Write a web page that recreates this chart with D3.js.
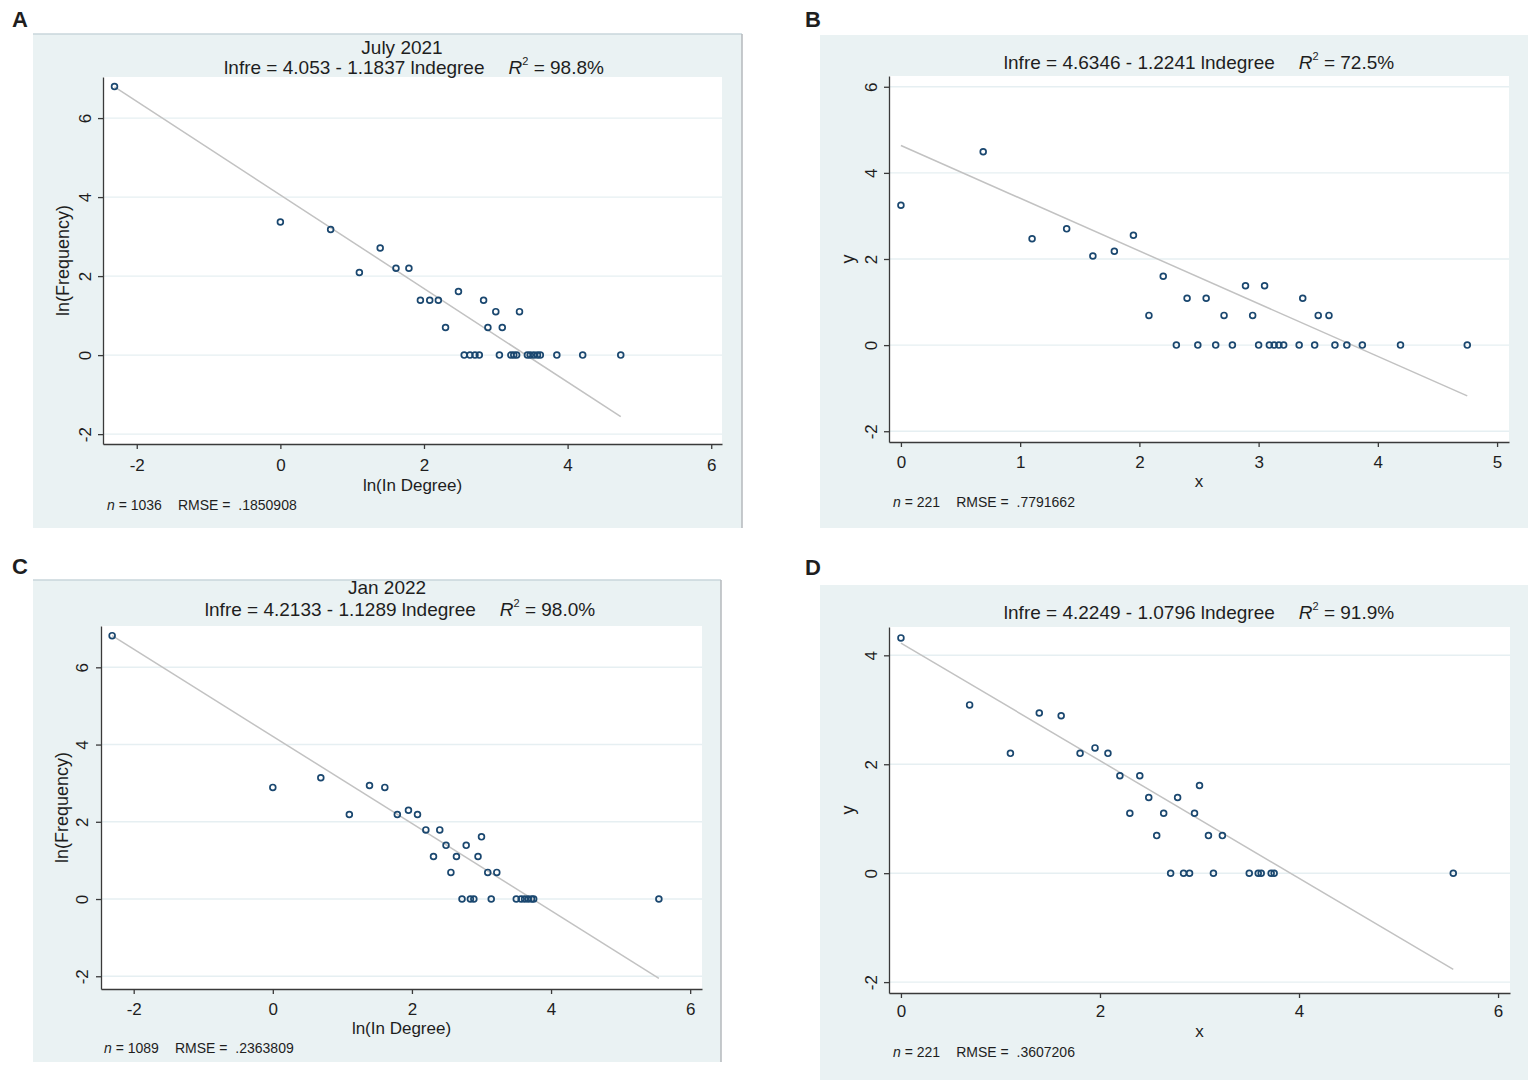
<!DOCTYPE html>
<html>
<head>
<meta charset="utf-8">
<title>Degree distribution fits</title>
<script src="https://d3js.org/d3.v7.min.js"></script>
<style>
    body { margin: 0; background: #fff; }
    svg text { font-family: "Liberation Sans", Arial, sans-serif; fill: #1e1e1e; }
    .axis path, .axis line { stroke: #3a3a3a; stroke-width: 1.3; }
    .axis text { font-size: 17px; fill: #1e1e1e; }
</style>
</head>
<body>
<svg id="chart" width="1535" height="1085"></svg>
<script>
// ---- data ----
const panelLetters = ["A", "B", "C", "D"];
const topTitles = ["July 2021", "", "Jan 2022", ""];
const intercepts = [4.053, 4.6346, 4.2133, 4.2249];
const slopes = [1.1837, 1.2241, 1.1289, 1.0796];
const rSquared = [98.8, 72.5, 98.0, 91.9];
const nObs = [1036, 221, 1089, 221];
const rmse = [0.1850908, 0.7791662, 0.2363809, 0.3607206];
const xTitles = ["ln(In Degree)", "x", "ln(In Degree)", "x"];
const yTitles = ["ln(Frequency)", "y", "ln(Frequency)", "y"];

const xTicks = [[-2, 0, 2, 4, 6], [0, 1, 2, 3, 4, 5], [-2, 0, 2, 4, 6], [0, 2, 4, 6]];
const yTicks = [[-2, 0, 2, 4, 6], [-2, 0, 2, 4, 6], [-2, 0, 2, 4, 6], [-2, 0, 2, 4]];

// A: July 2021
const aX = [-2.31, 0, 0.70, 1.10, 1.39, 1.61, 1.79, 1.95, 2.08, 2.20, 2.30, 2.48, 2.83, 2.89, 3.00, 3.09, 3.33,
            2.56, 2.64, 2.71, 2.77, 3.05, 3.21, 3.25, 3.29, 3.44, 3.48, 3.53, 3.58, 3.62, 3.85, 4.21, 4.74];
const aY = [6.80, 3.37, 3.18, 2.09, 2.71, 2.20, 2.20, 1.39, 1.39, 1.39, 0.70, 1.61, 1.39, 0.70, 1.10, 0.70, 1.10,
            0, 0, 0, 0, 0, 0, 0, 0, 0, 0, 0, 0, 0, 0, 0, 0];
// B
const bX = [0, 0.69, 1.10, 1.39, 1.61, 1.79, 1.95, 2.08, 2.20, 2.40, 2.56, 2.71, 2.89, 2.95, 3.05, 3.37, 3.50, 3.59,
            2.31, 2.49, 2.64, 2.78, 3.00, 3.09, 3.13, 3.17, 3.21, 3.34, 3.47, 3.64, 3.74, 3.87, 4.19, 4.75];
const bY = [3.25, 4.49, 2.47, 2.70, 2.07, 2.18, 2.55, 0.69, 1.60, 1.09, 1.09, 0.69, 1.38, 0.69, 1.38, 1.09, 0.69, 0.69,
            0, 0, 0, 0, 0, 0, 0, 0, 0, 0, 0, 0, 0, 0, 0, 0];
// C: Jan 2022
const cX = [-2.31, 0, 0.69, 1.10, 1.39, 1.61, 1.79, 1.95, 2.08, 2.20, 2.40, 2.31, 2.49, 2.56, 2.64, 2.78, 2.95, 3.00, 3.09, 3.22,
            2.72, 2.84, 2.89, 3.14, 3.50, 3.57, 3.62, 3.67, 3.72, 3.75, 5.55];
const cY = [6.82, 2.89, 3.14, 2.19, 2.94, 2.89, 2.19, 2.30, 2.19, 1.79, 1.79, 1.10, 1.39, 0.69, 1.10, 1.39, 1.10, 1.61, 0.69, 0.69,
            0, 0, 0, 0, 0, 0, 0, 0, 0, 0, 0];
// D
const dX = [0, 0.69, 1.10, 1.39, 1.61, 1.80, 1.95, 2.08, 2.20, 2.40, 2.49, 2.30, 2.64, 2.57, 2.78, 2.95, 3.00, 3.09, 3.23,
            2.71, 2.84, 2.90, 3.14, 3.50, 3.59, 3.62, 3.72, 3.75, 5.55];
const dY = [4.32, 3.09, 2.20, 2.94, 2.89, 2.20, 2.30, 2.20, 1.79, 1.79, 1.39, 1.10, 1.10, 0.69, 1.39, 1.10, 1.61, 0.69, 0.69,
            0, 0, 0, 0, 0, 0, 0, 0, 0, 0];

const xsAll = [aX, bX, cX, dX];
const ysAll = [aY, bY, cY, dY];

// ---- layout of each panel (pixels) ----
const layouts = [
    { letter: [12, 27], bg: [33, 34, 742, 528], border: true, plot: [103, 722, 77, 444],
      xDom: [-2.47, 6.15], yDom: [-2.25, 7.04], titleX: [402, 414], titleY: [54, 74],
      xLabY: 471, yLabX: 91, xTitleY: 491, yTitleX: 69, note: [107, 510] },
    { letter: [805, 27], bg: [820, 35, 1528, 528], border: false, plot: [889, 1509, 76, 442],
      xDom: [-0.1, 5.1], yDom: [-2.25, 6.25], titleX: [1199, 1199], titleY: [0, 69],
      xLabY: 468, yLabX: 877, xTitleY: 487, yTitleX: 854, note: [893, 507] },
    { letter: [12, 574], bg: [33, 580, 721, 1062], border: true, plot: [101, 702, 626, 989],
      xDom: [-2.47, 6.17], yDom: [-2.33, 7.07], titleX: [387, 400], titleY: [594, 616],
      xLabY: 1015, yLabX: 88, xTitleY: 1034, yTitleX: 68, note: [104, 1053] },
    { letter: [805, 575], bg: [820, 585, 1528, 1080], border: false, plot: [889, 1510, 627, 993],
      xDom: [-0.12, 6.12], yDom: [-2.2, 4.52], titleX: [1199, 1199], titleY: [0, 619],
      xLabY: 1017, yLabX: 877, xTitleY: 1037, yTitleX: 854, note: [893, 1057] }
];

const svg = d3.select("#chart");

function drawPanel(i) {
    const L = layouts[i];
    const [px0, px1, py0, py1] = L.plot;
    const g = svg.append("g").attr("class", "panel");

    // graph region background
    g.append("rect")
        .attr("x", L.bg[0]).attr("y", L.bg[1])
        .attr("width", L.bg[2] - L.bg[0]).attr("height", L.bg[3] - L.bg[1])
        .attr("fill", "#eaf2f3");
    if (L.border) {
        g.append("line").attr("x1", L.bg[0]).attr("x2", L.bg[2]).attr("y1", L.bg[1]).attr("y2", L.bg[1])
            .attr("stroke", "#c9d6db").attr("stroke-width", 1.5);
        g.append("line").attr("x1", L.bg[2]).attr("x2", L.bg[2]).attr("y1", L.bg[1]).attr("y2", L.bg[3])
            .attr("stroke", "#b4b9bc").attr("stroke-width", 1.5);
    }

    // panel letter
    g.append("text").attr("x", L.letter[0]).attr("y", L.letter[1])
        .attr("font-size", 22).attr("font-weight", "bold").attr("fill", "#111")
        .text(panelLetters[i]);

    // plot region
    g.append("rect").attr("x", px0).attr("y", py0)
        .attr("width", px1 - px0).attr("height", py1 - py0).attr("fill", "#fff");

    const x = d3.scaleLinear().domain(L.xDom).range([px0, px1]);
    const y = d3.scaleLinear().domain(L.yDom).range([py1, py0]);

    // horizontal grid lines
    g.selectAll(".grid").data(yTicks[i]).enter().append("line")
        .attr("x1", px0).attr("x2", px1)
        .attr("y1", d => y(d)).attr("y2", d => y(d))
        .attr("stroke", "#e6eff2").attr("stroke-width", 1.4);

    // axes (plain hyphen minus like the Stata output)
    const xAxis = g.append("g").attr("class", "axis")
        .attr("transform", `translate(0,${py1})`)
        .call(d3.axisBottom(x).tickValues(xTicks[i]).tickSize(5).tickSizeOuter(0).tickFormat(d => String(d)));
    xAxis.selectAll("text").attr("y", L.xLabY - py1).attr("dy", 0);

    const yAxis = g.append("g").attr("class", "axis")
        .attr("transform", `translate(${px0},0)`)
        .call(d3.axisLeft(y).tickValues(yTicks[i]).tickSize(5).tickSizeOuter(0).tickFormat(d => String(d)));
    yAxis.selectAll("text")
        .attr("transform", "rotate(-90)")
        .attr("text-anchor", "middle")
        .attr("x", 0).attr("dy", 0)
        .attr("y", L.yLabX - px0);

    // fitted line over the range of the data
    const xs = xsAll[i], ys = ysAll[i];
    const [xmin, xmax] = d3.extent(xs);
    const fit = v => intercepts[i] - slopes[i] * v;
    g.append("line")
        .attr("x1", x(xmin)).attr("y1", y(fit(xmin)))
        .attr("x2", x(xmax)).attr("y2", y(fit(xmax)))
        .attr("stroke", "#c2c2c2").attr("stroke-width", 1.5);

    // hollow markers
    g.selectAll(".pt").data(xs.map((v, k) => [v, ys[k]])).enter().append("circle")
        .attr("cx", d => x(d[0])).attr("cy", d => y(d[1]))
        .attr("r", 2.9)
        .attr("fill", "none").attr("stroke", "#1a476f").attr("stroke-width", 1.7);

    // titles
    if (topTitles[i]) {
        g.append("text").attr("x", L.titleX[0]).attr("y", L.titleY[0])
            .attr("text-anchor", "middle").attr("font-size", 19)
            .text(topTitles[i]);
    }
    const t = g.append("text").attr("x", L.titleX[1]).attr("y", L.titleY[1])
        .attr("text-anchor", "middle").attr("font-size", 19);
    t.append("tspan").text(`lnfre = ${intercepts[i]} - ${slopes[i]} lndegree`);
    t.append("tspan").attr("dx", 24).attr("font-style", "italic").text("R");
    t.append("tspan").attr("font-size", 11).attr("dy", -9).text("2");
    t.append("tspan").attr("dy", 9).text(` = ${rSquared[i].toFixed(1)}%`);

    // axis titles
    g.append("text").attr("x", (px0 + px1) / 2).attr("y", L.xTitleY)
        .attr("text-anchor", "middle").attr("font-size", 17).text(xTitles[i]);
    g.append("text")
        .attr("transform", `translate(${L.yTitleX},${(py0 + py1) / 2}) rotate(-90)`)
        .attr("text-anchor", "middle").attr("font-size", 18).text(yTitles[i]);

    // note
    const n = g.append("text").attr("x", L.note[0]).attr("y", L.note[1])
        .attr("font-size", 14).attr("fill", "#333");
    n.append("tspan").attr("font-style", "italic").text("n");
    n.append("tspan").text(` = ${nObs[i]}`);
    n.append("tspan").attr("dx", 16).text("RMSE = ");
    n.append("tspan").attr("dx", 4).text(String(rmse[i]).replace(/^0/, ""));
}

layouts.forEach((_, i) => drawPanel(i));
</script>
</body>
</html>
